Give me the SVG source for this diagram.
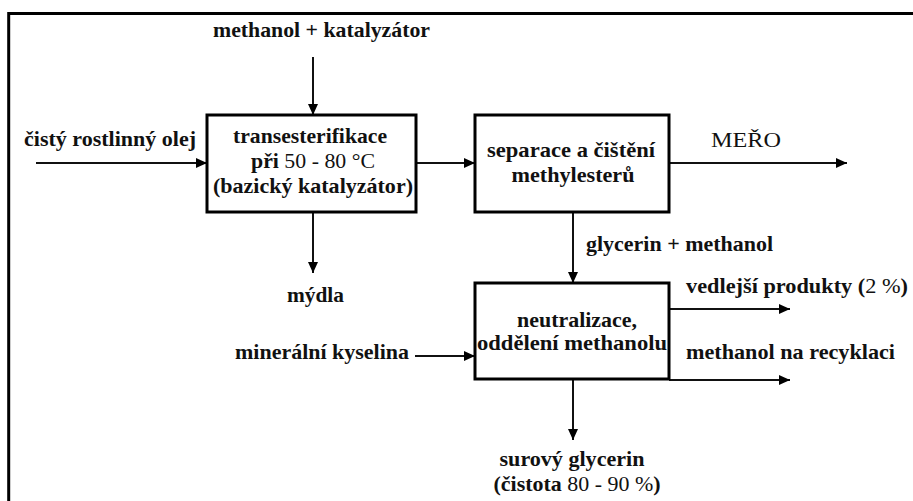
<svg xmlns="http://www.w3.org/2000/svg" width="913" height="501" viewBox="0 0 913 501" font-family="Liberation Serif, DejaVu Serif, serif">
<style>
text{font-size:21px;font-weight:bold;fill:#111}
.n{font-weight:normal}
.box{fill:#fff;stroke:#000;stroke-width:3}
.c{stroke:#111;stroke-width:2;fill:none;marker-end:url(#ah)}
</style>
<defs>
<marker id="ah" markerUnits="userSpaceOnUse" markerWidth="12" markerHeight="10" refX="11" refY="5" orient="auto">
<path d="M0,0 L11,5 L0,10 z" fill="#000"/>
</marker>
</defs>
<rect width="913" height="501" fill="#fff"/>
<polyline points="8.7,501 8.7,13.5 913,13.5" fill="none" stroke="#000" stroke-width="3"/>
<g id="connectors">
<line class="c" x1="313" y1="57" x2="313" y2="115"/>
<line class="c" x1="36" y1="163" x2="207" y2="163"/>
<line class="c" x1="416" y1="163" x2="475" y2="163"/>
<line class="c" x1="669" y1="163" x2="847" y2="163"/>
<line class="c" x1="313" y1="212" x2="313" y2="273"/>
<line class="c" x1="573" y1="212" x2="573" y2="283"/>
<line class="c" x1="415" y1="356" x2="475" y2="356"/>
<line class="c" x1="669" y1="309" x2="790" y2="309"/>
<line class="c" x1="669" y1="380" x2="790" y2="380"/>
<line class="c" x1="573" y1="379" x2="573" y2="440"/>
</g>
<g id="node-transesterifikace">
<rect class="box" x="207" y="115" width="209" height="97"/>
<text x="310" y="143" text-anchor="middle" textLength="154" lengthAdjust="spacingAndGlyphs" font-family="Liberation Serif">transesterifikace</text>
<text x="313" y="168" text-anchor="middle" textLength="124" lengthAdjust="spacingAndGlyphs">při <tspan class="n">50 - 80 °C</tspan></text>
<text x="313" y="193" text-anchor="middle" textLength="200" lengthAdjust="spacingAndGlyphs">(bazický katalyzátor)</text>
</g>
<g id="node-separace">
<rect class="box" x="475" y="115" width="194" height="97"/>
<text x="571" y="157" text-anchor="middle" textLength="168" lengthAdjust="spacingAndGlyphs">separace a čištění</text>
<text x="573" y="182" text-anchor="middle" textLength="123" lengthAdjust="spacingAndGlyphs">methylesterů</text>
</g>
<g id="node-neutralizace">
<rect class="box" x="475" y="283" width="194" height="96"/>
<text x="577" y="327" text-anchor="middle" textLength="120" lengthAdjust="spacingAndGlyphs">neutralizace,</text>
<text x="572" y="350" text-anchor="middle" textLength="190" lengthAdjust="spacingAndGlyphs">oddělení methanolu</text>
</g>
<g id="labels">
<text x="213" y="37" textLength="217" lengthAdjust="spacingAndGlyphs">methanol + katalyzátor</text>
<text x="24" y="146" textLength="172" lengthAdjust="spacingAndGlyphs">čistý rostlinný olej</text>
<text class="n" x="711" y="147" textLength="70" lengthAdjust="spacingAndGlyphs">MEŘO</text>
<text x="586" y="251" textLength="187" lengthAdjust="spacingAndGlyphs">glycerin + methanol</text>
<text x="287" y="302" textLength="57" lengthAdjust="spacingAndGlyphs">mýdla</text>
<text x="235" y="359" textLength="174" lengthAdjust="spacingAndGlyphs">minerální kyselina</text>
<text x="686" y="293" textLength="222" lengthAdjust="spacingAndGlyphs">vedlejší produkty (<tspan class="n">2 %</tspan>)</text>
<text x="686" y="359" textLength="209" lengthAdjust="spacingAndGlyphs">methanol na recyklaci</text>
<text x="572" y="466" text-anchor="middle" textLength="145" lengthAdjust="spacingAndGlyphs">surový glycerin</text>
<text x="577" y="491" text-anchor="middle" textLength="167" lengthAdjust="spacingAndGlyphs">(čistota <tspan class="n">80 - 90 %</tspan>)</text>
</g>
</svg>
